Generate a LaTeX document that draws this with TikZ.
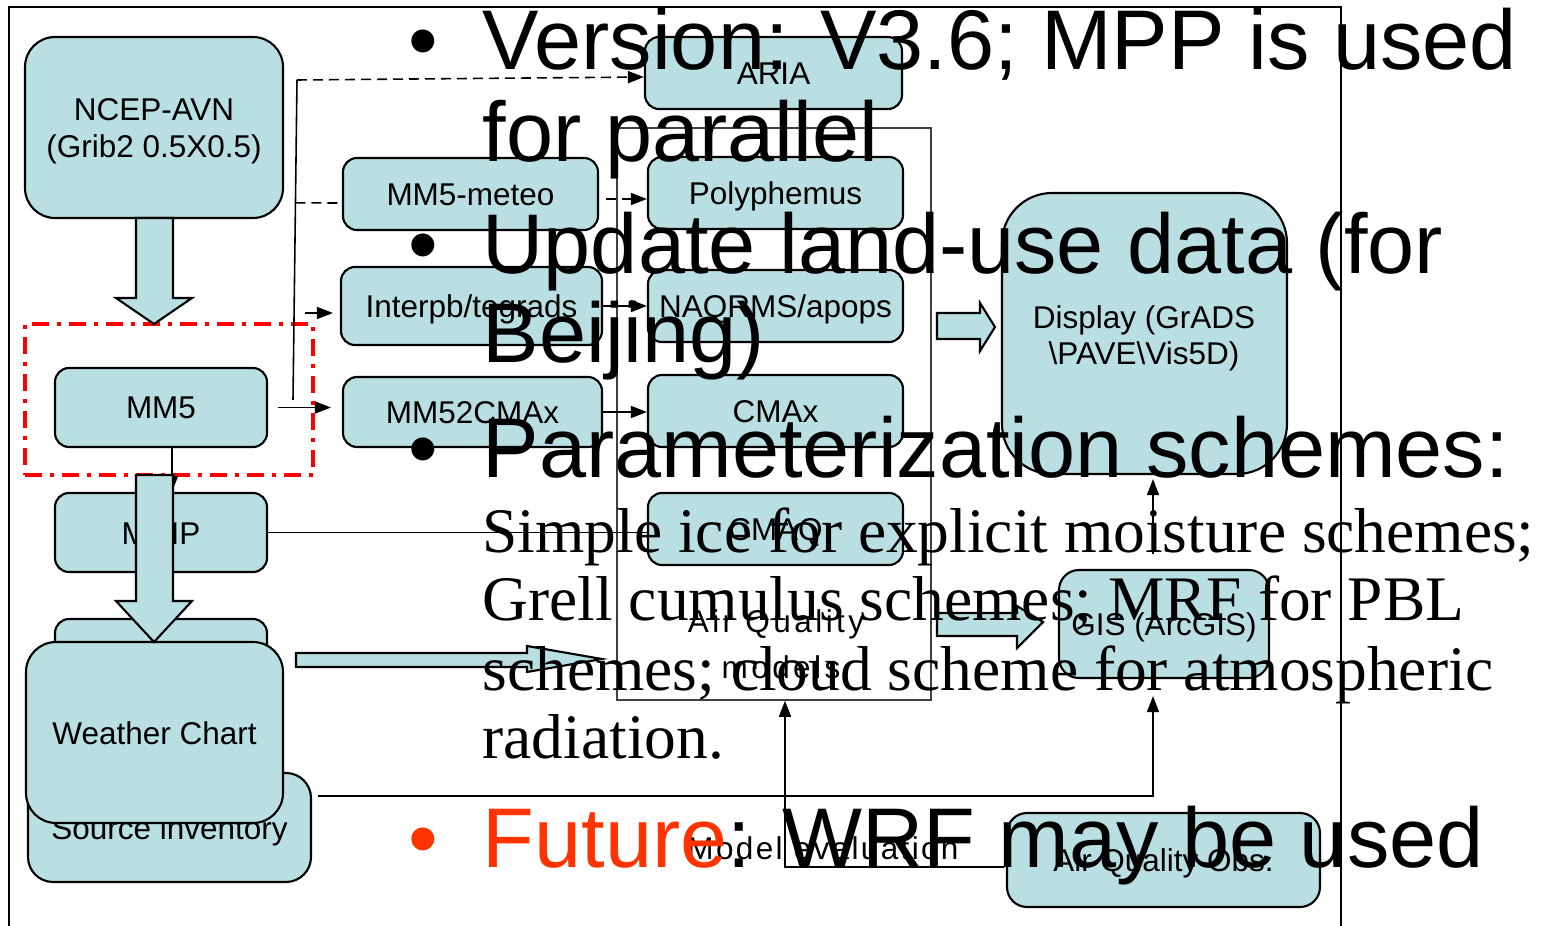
\documentclass[tikz,border=0pt]{standalone}
\usepackage{fontspec}
\setmainfont{Liberation Sans}
\newfontfamily\lblwide[LetterSpace=11]{Liberation Sans}
\newfontfamily\lblmid[LetterSpace=7.5]{Liberation Sans}
\newfontfamily\serifbig{Liberation Serif}
\usetikzlibrary{arrows.meta,calc}
\definecolor{boxblue}{RGB}{185,223,227}
\definecolor{futurered}{RGB}{255,51,0}
\newcommand{\lblsize}{\fontsize{8.96pt}{10.8pt}\selectfont}
\newcommand{\bigsize}{\fontsize{24.1pt}{29pt}\selectfont}
\newcommand{\serifsize}{\fontsize{18.05pt}{19.5pt}\selectfont}
\tikzset{
 box/.style={draw=black, fill=boxblue, line width=0.6pt, rounded corners=1.4mm, inner sep=0pt, font=\lblsize, text height=2.3mm, text depth=0mm, align=center},
 lbl/.style={inner sep=0pt, anchor=base, font=\lblsize},
 conn/.style={line width=0.45pt, draw=black},
 arr/.style={conn, -{Triangle[length=1.6mm,width=1.2mm]}},
 dashconn/.style={conn, dash pattern=on 1mm off 0.6mm},
 blockarrow/.style={draw=black, fill=boxblue, line width=0.6pt, line join=miter},
 bigtext/.style={inner sep=0pt, anchor=base west, font=\bigsize},
 bulletmark/.style={inner sep=0pt, anchor=base, font=\bigsize},
 sertext/.style={inner sep=0pt, anchor=base west, font=\serifbig\serifsize},
}
\newcommand{\bxnode}[7][]{%
 \pgfmathsetmacro{\bxcx}{(#3+#5)/2}%
 \pgfmathsetmacro{\bxcy}{(#4+#6)/2}%
 \pgfmathsetmacro{\bxw}{(#5-#3)/10}%
 \pgfmathsetmacro{\bxh}{(#6-#4)/10}%
 \node[box, minimum width=\bxw mm, minimum height=\bxh mm, #1] (#2) at (\bxcx,\bxcy) {#7};}
\begin{document}
\begin{tikzpicture}[x=0.1mm, y=-0.1mm]
\useasboundingbox (0,0) rectangle (1551,926);
% outer frame
\draw[line width=0.6pt] (9,926) -- (9,7) -- (1341,7) -- (1341,926);
% air quality models frame
\node[draw=black!75, line width=0.45pt, minimum width=31.4mm, minimum height=57.2mm, inner sep=0pt] (aqframe) at (774,414) {};
\node[lbl, font=\lblwide\lblsize] (aqlbl1) at (776,632) {Air Quality};
\node[lbl, font=\lblwide\lblsize] (aqlbl2) at (781,678) {models};
% MM5 group
\node[draw=red, line width=0.9pt, dash pattern=on 1.7mm off 0.8mm on 0.4mm off 0.8mm, minimum width=28.8mm, minimum height=15.1mm, inner sep=0pt] (mmgrp) at (169,399.5) {};
% boxes
\bxnode[rounded corners=3mm]{ncep}{25}{37}{283}{218}{}
\node[lbl] (ncep1) at (154,121) {NCEP-AVN};
\node[lbl] (ncep2) at (154,158) {(Grib2 0.5X0.5)};
\bxnode{meteo}{343}{158}{598}{230}{MM5-meteo}
\bxnode{interp}{341}{267}{602}{345}{Interpb/tegrads}
\bxnode{mmcmax}{343}{377}{602}{447}{MM52CMAx}
\bxnode{mm5}{55}{368}{267}{447}{MM5}
\bxnode{mcip}{55}{493}{267}{572}{MCIP}
\bxnode{hidden}{55}{619}{267}{697}{}
\bxnode[rounded corners=2.5mm]{source}{28}{773}{311}{882}{Source inventory}
\bxnode[rounded corners=3mm]{weather}{26}{642}{283}{823}{Weather Chart}
\bxnode{aria}{645}{37}{902}{109}{ARIA}
\bxnode{poly}{648}{157}{903}{229}{Polyphemus}
\bxnode{naq}{648}{270}{903}{342}{NAQRMS/apops}
\bxnode{cmax}{648}{375}{903}{447}{CMAx}
\bxnode{cmaq}{648}{493}{903}{565}{CMAQ}
\bxnode[rounded corners=5mm]{display}{1002}{193}{1287}{474}{}
\node[lbl] (disp1) at (1144,328) {Display (GrADS};
\node[lbl] (disp2) at (1144,365) {\textbackslash PAVE\textbackslash Vis5D)};
\bxnode[rounded corners=2mm]{gis}{1059}{570}{1269}{678}{GIS (ArcGIS)}
\bxnode[rounded corners=2mm]{obs}{1007}{813}{1320}{907}{Air Quality Obs.}
% connectors
\coordinate (trtop) at (297,80);
\coordinate (trbot) at (293,400);
\draw[conn] (trbot) -- (trtop);
\draw[arr, dash pattern=on 1mm off 0.6mm] (trtop) -- ($(aria.west)+(0,4)$);
\draw[dashconn] ($(trtop)!0.384!(trbot)$) -- ($(meteo.west)+(0,9)$);
\draw[arr, shorten <=1.1mm, shorten >=0.7mm] ($(trtop)!0.728!(trbot)$) -- ($(interp.west)+(0,7)$);
\draw[arr, shorten <=1mm, shorten >=1.1mm] (mm5.east) -- (mm5.east -| mmcmax.west);
\draw[arr, dash pattern=on 1mm off 0.6mm] ($(meteo.east)+(7,5)$) -- ($(poly.west)+(0,6)$);
\draw[arr] (interp.east) -- (interp.east -| naq.west);
\draw[arr] (mmcmax.east) -- (mmcmax.east -| cmax.west);
\draw[arr] ($(mm5.south)+(11,0)$) -- ($(mcip.north)+(11,0)$);
\draw[conn] (mcip.east) -- (mcip.east -| cmaq.west);
\draw[arr] ($(gis.north)+(-11,-15)$) -- ($(display.south)+(8.5,4)$);
\draw[arr] ($(source.east)+(6,-31.5)$) -| ($(gis.south)+(-11,17)$);
\draw[arr] ($(obs.west)+(-2,7)$) -| ($(aqframe.south)+(11,0)$);
\node[lbl, font=\lblmid\lblsize] (modeval) at (823,859) {Model evaluation};
% block arrows
\draw[blockarrow] (136,218) -- (173,218) -- (173,298) -- (192,298) -- (154,324) -- (116,298) -- (136,298) -- cycle;
\draw[blockarrow] (136,475) -- (173,475) -- (173,601) -- (192,601) -- (154,642) -- (116,601) -- (136,601) -- cycle;
\draw[blockarrow] (296,653) -- (527,653) -- (527,646) -- (602,659) -- (527,672) -- (527,667) -- (296,667) -- cycle;
\draw[blockarrow] (937,313) -- (980,313) -- (980,303) -- (995,327) -- (980,351) -- (980,339) -- (937,339) -- cycle;
\draw[blockarrow] (937,613) -- (1017,613) -- (1017,606) -- (1043,622) -- (1017,648) -- (1017,636) -- (937,636) -- cycle;
% slide text
\node[bulletmark] (b1) at (423,70) {•};
\node[bigtext] (t1a) at (482,70) {Version: V3.6; MPP is used};
\node[bigtext] (t1b) at (482,162) {for parallel};
\node[bulletmark] (b2) at (423,274) {•};
\node[bigtext] (t2a) at (482,273) {Update land-use data (for};
\node[bigtext] (t2b) at (482,363) {Beijing)};
\node[bulletmark] (b3) at (423,477) {•};
\node[bigtext] (t3a) at (482,477) {Parameterization schemes:};
\node[sertext] (s1) at (482,552) {Simple ice for explicit moisture schemes;};
\node[sertext] (s2) at (482,620) {Grell cumulus schemes; MRF for PBL};
\node[sertext] (s3) at (482,690) {schemes; cloud scheme for atmospheric};
\node[sertext] (s4) at (482,758) {radiation.};
\node[bulletmark, text=futurered] (b4) at (423,867) {•};
\node[bigtext] (t4) at (482,867) {\textcolor{futurered}{Future}: WRF may be used};
\end{tikzpicture}
\end{document}
